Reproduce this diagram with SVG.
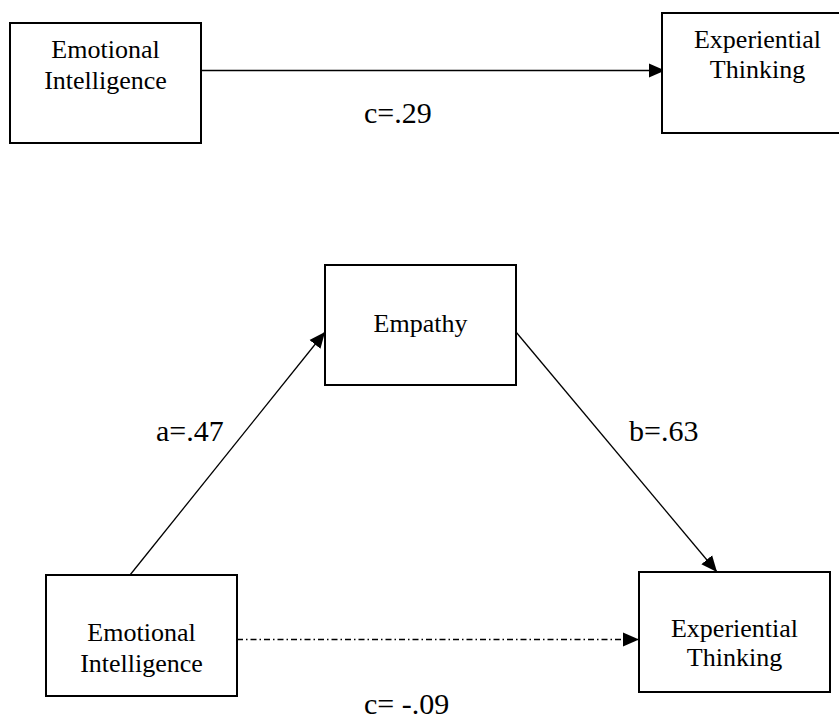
<svg xmlns="http://www.w3.org/2000/svg" width="839" height="721" viewBox="0 0 839 721">
<style>
.box{fill:#fff;stroke:#000;stroke-width:2}
text{font-family:'Liberation Serif','Times New Roman','DejaVu Serif',serif;fill:#000}
.nt{font-size:26px;text-anchor:middle}
.lb{font-size:30px}
.cn{fill:none;stroke:#000;stroke-width:1.3}
</style>
<defs>
<marker id="ah" markerUnits="userSpaceOnUse" markerWidth="17" markerHeight="17" viewBox="0 0 17 17" refX="16" refY="8.5" orient="auto">
<path d="M0,1.5 L16,8.5 L0,15.5 Z" fill="#000"/>
</marker>
</defs>
<g id="connectors">
<line class="cn" x1="201" y1="70.5" x2="665" y2="70.5" marker-end="url(#ah)"/>
<line class="cn" x1="130" y1="575" x2="325" y2="332" marker-end="url(#ah)"/>
<line class="cn" x1="516" y1="332" x2="717" y2="572" marker-end="url(#ah)"/>
<line class="cn" x1="237" y1="639.5" x2="639" y2="639.5" stroke-dasharray="6 3 1.5 3" marker-end="url(#ah)"/>
</g>
<g id="ei1">
<rect class="box" x="10" y="23" width="191" height="120"/>
<text class="nt" x="105.5" y="58" font-family="Liberation Serif, serif">Emotional</text>
<text class="nt" x="105.5" y="89" font-family="Liberation Serif, serif">Intelligence</text>
</g>
<g id="et1">
<rect class="box" x="662" y="13" width="191" height="120"/>
<text class="nt" x="757.5" y="48" font-family="Liberation Serif, serif">Experiential</text>
<text class="nt" x="757.5" y="78" font-family="Liberation Serif, serif">Thinking</text>
</g>
<g id="emp">
<rect class="box" x="325" y="265" width="191" height="120"/>
<text class="nt" x="420.5" y="332" font-family="Liberation Serif, serif">Empathy</text>
</g>
<g id="ei2">
<rect class="box" x="46" y="575" width="191" height="121"/>
<text class="nt" x="141.5" y="641" font-family="Liberation Serif, serif">Emotional</text>
<text class="nt" x="141.5" y="672" font-family="Liberation Serif, serif">Intelligence</text>
</g>
<g id="et2">
<rect class="box" x="639" y="572" width="191" height="120"/>
<text class="nt" x="734.5" y="637" font-family="Liberation Serif, serif">Experiential</text>
<text class="nt" x="734.5" y="666" font-family="Liberation Serif, serif">Thinking</text>
</g>
<g id="labels">
<text class="lb" x="364" y="123" font-family="Liberation Serif, serif">c=.29</text>
<text class="lb" x="156" y="441" font-family="Liberation Serif, serif">a=.47</text>
<text class="lb" x="629" y="441" font-family="Liberation Serif, serif">b=.63</text>
<text class="lb" x="364" y="714" font-family="Liberation Serif, serif">c= -.09</text>
</g>
</svg>
